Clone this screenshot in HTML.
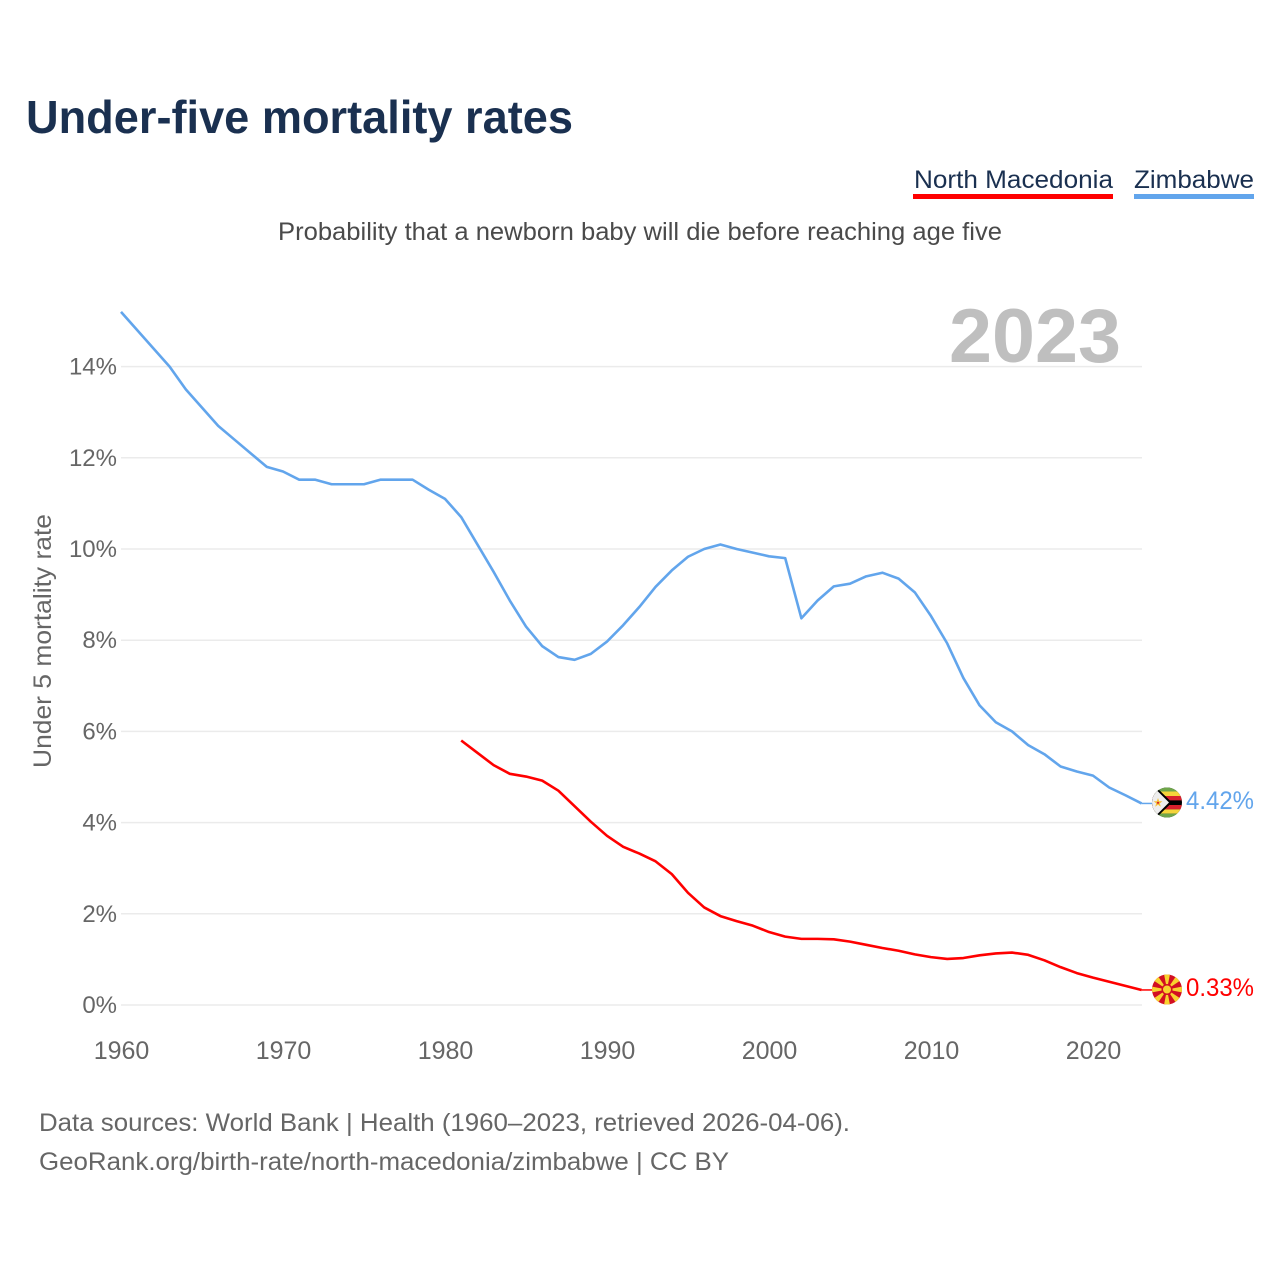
<!DOCTYPE html>
<html lang="en">
<head>
<meta charset="utf-8">
<title>Under-five mortality rates</title>
<style>
html,body{margin:0;padding:0;background:#fff;}
svg{display:block;font-family:"Liberation Sans",Arial,sans-serif;}
</style>
</head>
<body>
<svg id="chart" xmlns="http://www.w3.org/2000/svg" width="1280" height="1280" viewBox="0 0 1280 1280">
  <rect width="1280" height="1280" fill="#ffffff"/>
  <text x="26" y="133" font-size="46" font-weight="700" fill="#1a3050" textLength="547" lengthAdjust="spacingAndGlyphs">Under-five mortality rates</text>

  <g>
    <text x="914" y="188" font-size="25" fill="#1a3050" textLength="199" lengthAdjust="spacingAndGlyphs">North Macedonia</text>
    <rect x="913" y="194" width="200" height="5" fill="#ff0000"/>
  </g>
  <g>
    <text x="1134" y="188" font-size="25" fill="#1a3050" textLength="120" lengthAdjust="spacingAndGlyphs">Zimbabwe</text>
    <rect x="1134" y="194" width="120" height="5" fill="#62a5ec"/>
  </g>

  <text x="278" y="240" font-size="25" fill="#4a4a4a" textLength="724" lengthAdjust="spacingAndGlyphs">Probability that a newborn baby will die before reaching age five</text>

  <g id="grid"></g>
  <g id="ylabels"></g>
  <g id="xlabels"></g>

  <text x="949" y="362" font-size="76" font-weight="700" fill="#bfbfbf" textLength="172" lengthAdjust="spacingAndGlyphs">2023</text>

  <text transform="translate(51,768) rotate(-90)" x="0" y="0" font-size="25" fill="#666666" textLength="254" lengthAdjust="spacingAndGlyphs">Under 5 mortality rate</text>

  <path id="line-zimbabwe" fill="none" stroke="#62a5ec" stroke-width="2.6" stroke-linejoin="round"/>
  <path id="line-macedonia" fill="none" stroke="#ff0000" stroke-width="2.6" stroke-linejoin="round"/>
  <path id="conn-zimbabwe" fill="none" stroke="#62a5ec" stroke-width="1.5"/>
  <path id="conn-macedonia" fill="none" stroke="#ff0000" stroke-width="1.5"/>

  <defs>
    <clipPath id="flag-clip-zw"><circle cx="1167" cy="802.5" r="15"/></clipPath>
    <clipPath id="flag-clip-mk"><circle cx="1167" cy="989.5" r="15"/></clipPath>
  </defs>

  <g clip-path="url(#flag-clip-zw)">
    <rect x="1152" y="787" width="30" height="31" fill="#000000"/>
    <rect x="1152" y="787" width="30" height="4.5" fill="#6fa64a"/>
    <rect x="1152" y="791.5" width="30" height="4.5" fill="#f5d43a"/>
    <rect x="1152" y="796" width="30" height="4.4" fill="#d8202c"/>
    <rect x="1152" y="805" width="30" height="4.4" fill="#d8202c"/>
    <rect x="1152" y="809.4" width="30" height="4.2" fill="#f5d43a"/>
    <rect x="1152" y="813.6" width="30" height="4.4" fill="#6fa64a"/>
    <polygon points="1152,787 1156,787 1172,802.5 1156,818 1152,818" fill="#000000"/>
    <polygon points="1152,788 1154.5,788 1169,802.5 1154.5,817 1152,817" fill="#eeeeee"/>
    <polygon points="1158,798 1159.2,801.3 1162.4,801.3 1159.8,803.4 1160.8,806.8 1158,804.8 1155.2,806.8 1156.2,803.4 1153.6,801.3 1156.8,801.3" fill="#f5c23a"/>
    <circle cx="1158" cy="802.8" r="1.1" fill="#d8202c"/>
  </g>

  <g clip-path="url(#flag-clip-mk)">
    <rect x="1152" y="974" width="30" height="31" fill="#d20f22"/>
    <g fill="#f8d22f">
      <polygon points="1167,989.5 1163.8,973 1170.2,973"/>
      <polygon points="1167,989.5 1163.8,973 1170.2,973" transform="rotate(45 1167 989.5)"/>
      <polygon points="1167,989.5 1163.8,973 1170.2,973" transform="rotate(90 1167 989.5)"/>
      <polygon points="1167,989.5 1163.8,973 1170.2,973" transform="rotate(135 1167 989.5)"/>
      <polygon points="1167,989.5 1163.8,973 1170.2,973" transform="rotate(180 1167 989.5)"/>
      <polygon points="1167,989.5 1163.8,973 1170.2,973" transform="rotate(225 1167 989.5)"/>
      <polygon points="1167,989.5 1163.8,973 1170.2,973" transform="rotate(270 1167 989.5)"/>
      <polygon points="1167,989.5 1163.8,973 1170.2,973" transform="rotate(315 1167 989.5)"/>
    </g>
    <circle cx="1167" cy="989.5" r="5.5" fill="#d20f22"/>
    <circle cx="1167" cy="989.5" r="4" fill="#f8d22f"/>
  </g>

  <text id="label-zimbabwe" x="1186" y="809" font-size="25" fill="#62a5ec" textLength="68" lengthAdjust="spacingAndGlyphs">4.42%</text>
  <text id="label-macedonia" x="1186" y="996" font-size="25" fill="#ff0000" textLength="68" lengthAdjust="spacingAndGlyphs">0.33%</text>

  <text x="39" y="1131" font-size="25" fill="#666666" textLength="811" lengthAdjust="spacingAndGlyphs">Data sources: World Bank | Health (1960–2023, retrieved 2026-04-06).</text>
  <text x="39" y="1170" font-size="25" fill="#666666" textLength="690" lengthAdjust="spacingAndGlyphs">GeoRank.org/birth-rate/north-macedonia/zimbabwe | CC BY</text>
</svg>

<script>
const zimbabweStartYear = 1960;
const macedoniaStartYear = 1981;
const yTicks = [0, 2, 4, 6, 8, 10, 12, 14];
const xTicks = [1960, 1970, 1980, 1990, 2000, 2010, 2020];
const zimbabweValues = [
  15.2, 14.8, 14.4, 14.0, 13.5, 13.1, 12.7, 12.4, 12.1, 11.8,
  11.7, 11.52, 11.52, 11.42, 11.42, 11.42, 11.52, 11.52, 11.52, 11.3,
  11.1, 10.7, 10.1, 9.5, 8.87, 8.3, 7.87, 7.63, 7.57, 7.7,
  7.97, 8.33, 8.73, 9.17, 9.53, 9.83, 10.0, 10.1, 10.0, 9.92,
  9.84, 9.8, 8.48, 8.87, 9.18, 9.24, 9.4, 9.48, 9.35, 9.05,
  8.53, 7.93, 7.17, 6.57, 6.2, 6.0, 5.7, 5.5, 5.23, 5.12,
  5.03, 4.77, 4.6, 4.42
];
const macedoniaValues = [
  5.8, 5.53, 5.26, 5.07, 5.01, 4.92, 4.7, 4.36, 4.02,
  3.71, 3.47, 3.32, 3.15, 2.87, 2.46, 2.14, 1.95, 1.84, 1.74,
  1.6, 1.5, 1.45, 1.45, 1.44, 1.39, 1.32, 1.25, 1.19, 1.11,
  1.05, 1.01, 1.03, 1.09, 1.13, 1.15, 1.1, 0.98, 0.83, 0.7,
  0.6, 0.51, 0.42, 0.33
];

const NS = 'http://www.w3.org/2000/svg';
function xScale(year) { return 121 + (year - 1960) * 16.2; }
function yScale(v) { return 1005 - v * 45.6; }
function linePath(values, startYear) {
  return values.map(function (v, i) {
    return (i ? 'L' : 'M') + xScale(startYear + i).toFixed(2) + ' ' + yScale(v).toFixed(2);
  }).join(' ');
}

const grid = document.getElementById('grid');
const yLabels = document.getElementById('ylabels');
const xLabels = document.getElementById('xlabels');

yTicks.forEach(function (t) {
  const ln = document.createElementNS(NS, 'line');
  
  
  ln.setAttribute('x1', 121);
  ln.setAttribute('x2', 1142);
  ln.setAttribute('y1', yScale(t));
  ln.setAttribute('y2', yScale(t));
  ln.setAttribute('stroke', '#ebebeb');
  ln.setAttribute('stroke-width', '1.5');
  grid.appendChild(ln);

  const tx = document.createElementNS(NS, 'text');
  
  
  tx.setAttribute('x', 117);
  tx.setAttribute('y', yScale(t) + 8);
  tx.setAttribute('text-anchor', 'end');
  tx.setAttribute('font-size', '24');
  tx.setAttribute('fill', '#666666');
  tx.textContent = t + '%';
  yLabels.appendChild(tx);
});

xTicks.forEach(function (t) {
  const tx = document.createElementNS(NS, 'text');
  
  
  tx.setAttribute('x', xScale(t) + 0.5);
  tx.setAttribute('y', 1059);
  tx.setAttribute('text-anchor', 'middle');
  tx.setAttribute('font-size', '25');
  tx.setAttribute('fill', '#666666');
  tx.textContent = t;
  xLabels.appendChild(tx);
});

document.getElementById('line-zimbabwe').setAttribute('d', linePath(zimbabweValues, zimbabweStartYear));
document.getElementById('line-macedonia').setAttribute('d', linePath(macedoniaValues, macedoniaStartYear));

const zLast = zimbabweValues[zimbabweValues.length - 1];
const mLast = macedoniaValues[macedoniaValues.length - 1];
document.getElementById('conn-zimbabwe').setAttribute('d', 'M' + xScale(2023) + ' ' + yScale(zLast) + ' H1152');
document.getElementById('conn-macedonia').setAttribute('d', 'M' + xScale(2023) + ' ' + yScale(mLast) + ' H1152');
</script>
</body>
</html>
